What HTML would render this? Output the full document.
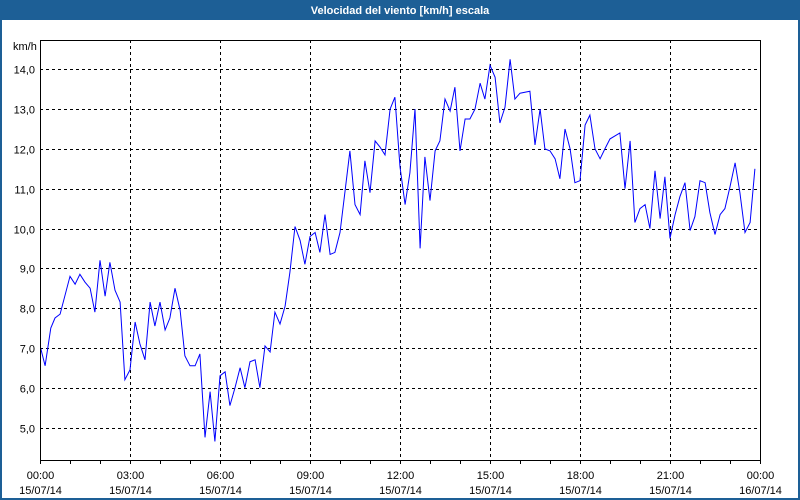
<!DOCTYPE html>
<html><head><meta charset="utf-8"><style>
html,body{margin:0;padding:0;background:#fff;}
svg{display:block;font-family:"Liberation Sans",sans-serif;}
</style></head><body>
<svg id="chart" width="800" height="500" viewBox="0 0 800 500" xmlns="http://www.w3.org/2000/svg">
<rect x="0" y="0" width="800" height="500" fill="#1d5f96"/>
<rect x="2" y="20" width="796" height="478" fill="#fff"/>
<text x="400" y="14" text-anchor="middle" fill="#fff" font-size="11" font-weight="bold">Velocidad del viento [km/h] escala</text>
<text x="13" y="50" font-size="11" fill="#000">km/h</text>
<g id="grid"></g>
<g id="axes"></g>
<path id="line" fill="none" stroke="#0000ff" stroke-width="1"/>
<rect x="40.5" y="40.5" width="720" height="420" fill="none" stroke="#000" stroke-width="1"/>
</svg>
<script>
const yTicks=[5,6,7,8,9,10,11,12,13,14];
const xTickHours=[0,3,6,9,12,15,18,21,24];
const xTimeLabels=["00:00","03:00","06:00","09:00","12:00","15:00","18:00","21:00","00:00"];
const xDateLabels=["15/07/14","15/07/14","15/07/14","15/07/14","15/07/14","15/07/14","15/07/14","15/07/14","16/07/14"];
const hours=[0.02,0.17,0.36,0.5,0.67,1.0,1.17,1.33,1.5,1.67,1.83,2.0,2.17,2.33,2.5,2.67,2.83,3.0,3.17,3.33,3.5,3.67,3.83,4.0,4.17,4.33,4.5,4.67,4.83,5.0,5.17,5.33,5.5,5.67,5.83,6.0,6.17,6.33,6.5,6.67,6.83,7.0,7.17,7.33,7.5,7.67,7.83,8.0,8.17,8.33,8.5,8.67,8.83,9.0,9.17,9.33,9.5,9.67,9.83,10.0,10.17,10.33,10.5,10.67,10.83,11.0,11.17,11.33,11.5,11.67,11.83,12.0,12.17,12.33,12.5,12.67,12.83,13.0,13.17,13.33,13.5,13.67,13.83,14.0,14.17,14.33,14.5,14.67,14.83,15.0,15.17,15.33,15.5,15.67,15.83,16.0,16.33,16.5,16.67,16.83,17.0,17.17,17.33,17.5,17.67,17.83,18.0,18.17,18.33,18.5,18.67,18.83,19.0,19.33,19.5,19.67,19.83,20.0,20.17,20.33,20.5,20.67,20.83,21.0,21.17,21.33,21.5,21.67,21.83,22.0,22.17,22.33,22.5,22.67,22.83,23.0,23.17,23.33,23.5,23.67,23.83];
const speeds=[7.0,6.55,7.5,7.75,7.85,8.8,8.6,8.85,8.65,8.5,7.9,9.2,8.3,9.15,8.45,8.15,6.2,6.45,7.65,7.1,6.7,8.15,7.55,8.15,7.45,7.75,8.5,7.95,6.8,6.55,6.55,6.85,4.75,5.9,4.65,6.3,6.4,5.55,6.0,6.5,6.0,6.65,6.7,6.0,7.05,6.9,7.9,7.6,8.05,8.9,10.05,9.7,9.1,9.8,9.9,9.4,10.35,9.35,9.4,9.9,10.95,11.95,10.6,10.35,11.7,10.9,12.2,12.05,11.85,13.0,13.3,11.55,10.6,11.4,13.0,9.5,11.8,10.7,11.95,12.2,13.25,12.95,13.55,11.95,12.75,12.75,13.0,13.65,13.25,14.1,13.8,12.65,13.05,14.25,13.25,13.4,13.45,12.1,13.0,12.0,11.95,11.75,11.25,12.5,12.0,11.15,11.2,12.6,12.85,12.0,11.75,12.0,12.25,12.4,11.0,12.2,10.15,10.5,10.6,10.0,11.45,10.25,11.3,9.75,10.35,10.8,11.15,9.95,10.3,11.2,11.15,10.4,9.85,10.35,10.5,11.05,11.65,10.9,9.9,10.15,11.5];
const NS="http://www.w3.org/2000/svg";
const X0=40,X1=760,Y0=460,Y1=40;
function xScale(h){return X0+(h/24)*(X1-X0);}
function yScale(v){return 69.3+(14-v)*39.8;}
const grid=document.getElementById('grid'),axes=document.getElementById('axes');
function mk(tag,attrs,parent){const e=document.createElementNS(NS,tag);for(const k in attrs)e.setAttribute(k,attrs[k]);parent.appendChild(e);return e;}
yTicks.forEach(v=>{
  const y=Math.round(yScale(v))+0.5;
  const l=mk('line',{x1:X0,x2:X1,y1:y,y2:y,stroke:'#000','stroke-dasharray':'3,3','stroke-width':1},grid);
  
  
  const t=mk('text',{x:35,y:y+4,'text-anchor':'end','font-size':11,fill:'#000'},axes);
  
  
  t.textContent=v.toFixed(1).replace('.',',');
});
xTickHours.forEach((h,i)=>{
  const x=Math.round(xScale(h))+0.5;
  if(i>0&&i<xTickHours.length-1){
    const l=mk('line',{x1:x,x2:x,y1:Y1,y2:Y0,stroke:'#000','stroke-dasharray':'3,3','stroke-width':1},grid);
    
    
  }
  const t=mk('text',{x:x,y:479,'text-anchor':'middle','font-size':11,fill:'#000'},axes);
  
  
  t.textContent=xTimeLabels[i];
  const d=mk('text',{x:x,y:494,'text-anchor':'middle','font-size':11,fill:'#000'},axes);
  
  
  d.textContent=xDateLabels[i];
});
for(let h=0;h<=24;h++){
  const x=Math.round(xScale(h))+0.5;
  const m=mk('line',{x1:x,x2:x,y1:Y0,y2:Y0+4,stroke:'#000','stroke-width':1},axes);
  
  
}
document.getElementById('line').setAttribute('d',hours.map((h,i)=>(i?'L':'M')+xScale(h).toFixed(1)+','+yScale(speeds[i]).toFixed(1)).join(' '));
</script>
</body></html>
